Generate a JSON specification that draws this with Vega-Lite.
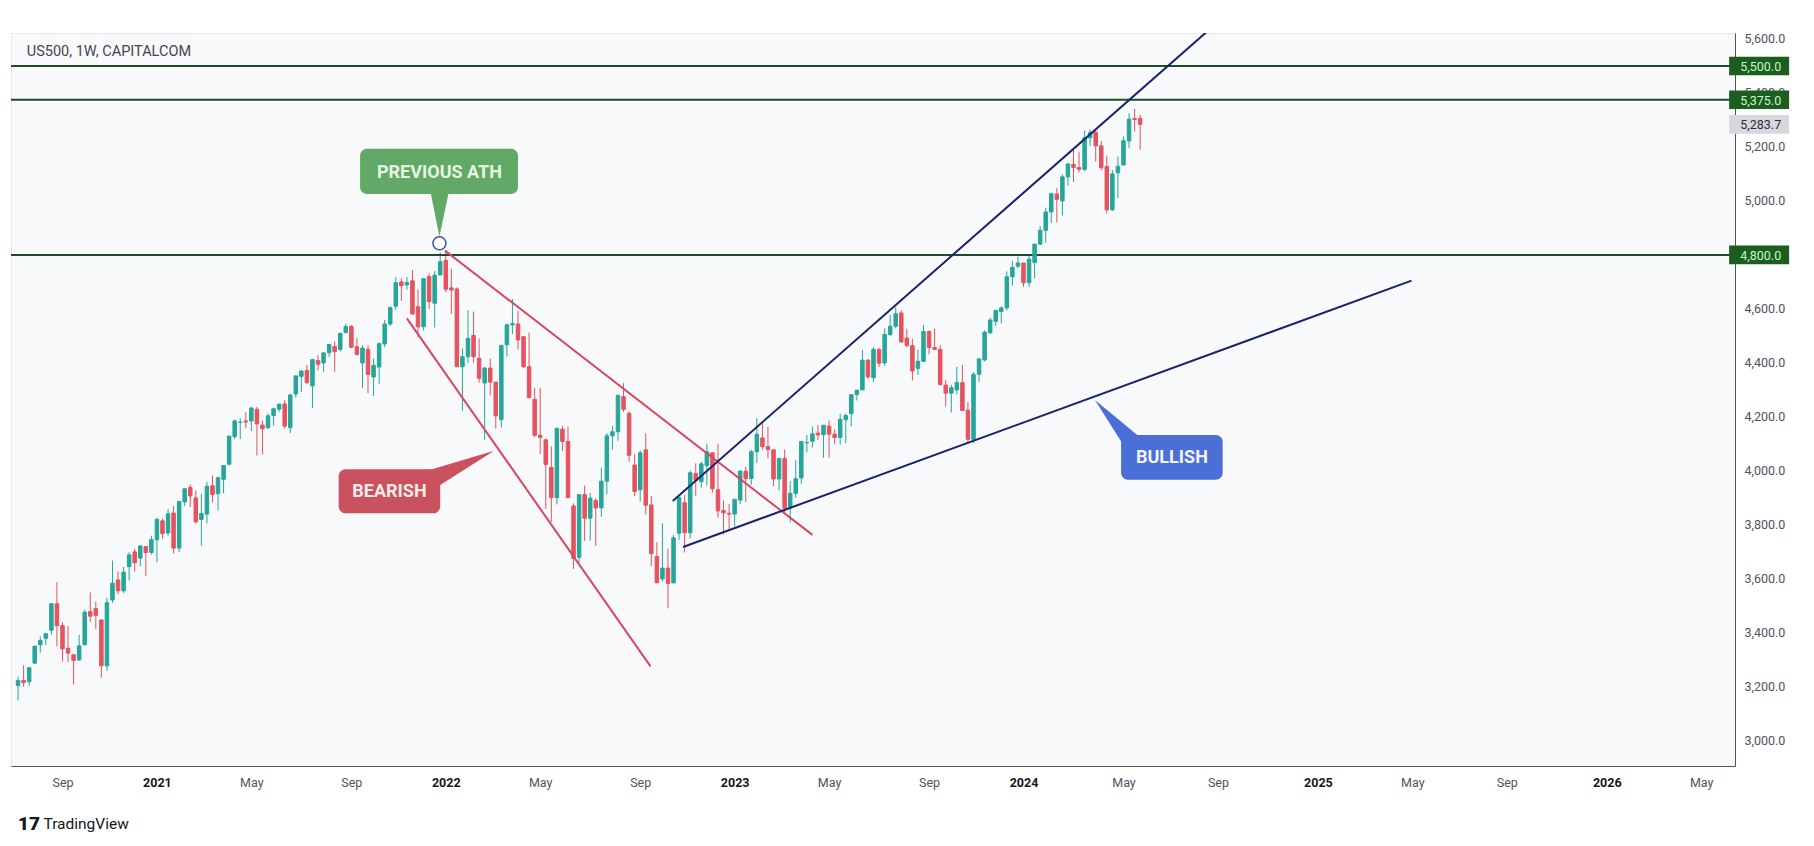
{
  "$schema": "https://vega.github.io/schema/vega-lite/v6.json",
  "width": 1724,
  "height": 733,
  "autosize": {"type": "none"},
  "padding": {"left": 11, "top": 33, "right": 79, "bottom": 80},
  "background": "#ffffff",
  "config": {"view": {"stroke": "#e6e8ee", "fill": "#f8f9fb"}, "font": "Roboto"},
  "resolve": {"scale": {"color": "independent", "shape": "independent"}},
  "datasets": {
    "candles": [
      {"d":"2020-07-13","o":3205,"h":3238,"l":3150,"c":3224},
      {"d":"2020-07-20","o":3224,"h":3280,"l":3200,"c":3216},
      {"d":"2020-07-27","o":3219,"h":3272,"l":3204,"c":3271},
      {"d":"2020-08-03","o":3288,"h":3352,"l":3284,"c":3351},
      {"d":"2020-08-10","o":3356,"h":3387,"l":3327,"c":3372},
      {"d":"2020-08-17","o":3380,"h":3399,"l":3355,"c":3397},
      {"d":"2020-08-24","o":3410,"h":3509,"l":3394,"c":3508},
      {"d":"2020-08-31","o":3508,"h":3588,"l":3349,"c":3427},
      {"d":"2020-09-07","o":3427,"h":3440,"l":3294,"c":3341},
      {"d":"2020-09-14","o":3343,"h":3426,"l":3291,"c":3325},
      {"d":"2020-09-21","o":3319,"h":3320,"l":3209,"c":3298},
      {"d":"2020-09-28","o":3300,"h":3393,"l":3296,"c":3352},
      {"d":"2020-10-05","o":3356,"h":3486,"l":3354,"c":3477},
      {"d":"2020-10-12","o":3479,"h":3550,"l":3441,"c":3462},
      {"d":"2020-10-19","o":3490,"h":3516,"l":3415,"c":3465},
      {"d":"2020-10-26","o":3448,"h":3450,"l":3234,"c":3278},
      {"d":"2020-11-02","o":3278,"h":3529,"l":3259,"c":3512},
      {"d":"2020-11-09","o":3522,"h":3668,"l":3511,"c":3584},
      {"d":"2020-11-16","o":3596,"h":3628,"l":3543,"c":3556},
      {"d":"2020-11-23","o":3556,"h":3644,"l":3548,"c":3625},
      {"d":"2020-11-30","o":3646,"h":3699,"l":3594,"c":3689},
      {"d":"2020-12-07","o":3700,"h":3712,"l":3627,"c":3660},
      {"d":"2020-12-14","o":3677,"h":3726,"l":3647,"c":3722},
      {"d":"2020-12-21","o":3720,"h":3722,"l":3610,"c":3698},
      {"d":"2020-12-28","o":3698,"h":3760,"l":3690,"c":3745},
      {"d":"2021-01-04","o":3745,"h":3827,"l":3662,"c":3820},
      {"d":"2021-01-11","o":3815,"h":3823,"l":3749,"c":3768},
      {"d":"2021-01-18","o":3770,"h":3859,"l":3760,"c":3841},
      {"d":"2021-01-25","o":3844,"h":3870,"l":3694,"c":3714},
      {"d":"2021-02-01","o":3714,"h":3887,"l":3700,"c":3887},
      {"d":"2021-02-08","o":3885,"h":3935,"l":3870,"c":3934},
      {"d":"2021-02-15","o":3939,"h":3950,"l":3866,"c":3907},
      {"d":"2021-02-22","o":3900,"h":3928,"l":3805,"c":3811},
      {"d":"2021-03-01","o":3820,"h":3914,"l":3723,"c":3842},
      {"d":"2021-03-08","o":3840,"h":3960,"l":3805,"c":3943},
      {"d":"2021-03-15","o":3945,"h":3983,"l":3883,"c":3913},
      {"d":"2021-03-22","o":3916,"h":3978,"l":3853,"c":3975},
      {"d":"2021-03-29","o":3969,"h":4020,"l":3917,"c":4020},
      {"d":"2021-04-05","o":4025,"h":4129,"l":4020,"c":4129},
      {"d":"2021-04-12","o":4127,"h":4191,"l":4118,"c":4185},
      {"d":"2021-04-19","o":4180,"h":4195,"l":4118,"c":4180},
      {"d":"2021-04-26","o":4185,"h":4218,"l":4158,"c":4181},
      {"d":"2021-05-03","o":4185,"h":4238,"l":4148,"c":4233},
      {"d":"2021-05-10","o":4228,"h":4237,"l":4057,"c":4174},
      {"d":"2021-05-17","o":4170,"h":4186,"l":4061,"c":4156},
      {"d":"2021-05-24","o":4160,"h":4213,"l":4155,"c":4204},
      {"d":"2021-05-31","o":4205,"h":4234,"l":4168,"c":4230},
      {"d":"2021-06-07","o":4229,"h":4249,"l":4219,"c":4247},
      {"d":"2021-06-14","o":4248,"h":4262,"l":4157,"c":4166},
      {"d":"2021-06-21","o":4160,"h":4286,"l":4140,"c":4281},
      {"d":"2021-06-28","o":4285,"h":4353,"l":4271,"c":4352},
      {"d":"2021-07-05","o":4350,"h":4372,"l":4292,"c":4370},
      {"d":"2021-07-12","o":4372,"h":4393,"l":4321,"c":4327},
      {"d":"2021-07-19","o":4315,"h":4415,"l":4233,"c":4412},
      {"d":"2021-07-26","o":4409,"h":4429,"l":4372,"c":4395},
      {"d":"2021-08-02","o":4400,"h":4440,"l":4367,"c":4437},
      {"d":"2021-08-09","o":4438,"h":4468,"l":4422,"c":4468},
      {"d":"2021-08-16","o":4461,"h":4480,"l":4367,"c":4442},
      {"d":"2021-08-23","o":4450,"h":4513,"l":4442,"c":4509},
      {"d":"2021-08-30","o":4513,"h":4545,"l":4509,"c":4535},
      {"d":"2021-09-06","o":4535,"h":4540,"l":4454,"c":4458},
      {"d":"2021-09-13","o":4460,"h":4492,"l":4427,"c":4432},
      {"d":"2021-09-20","o":4400,"h":4466,"l":4306,"c":4455},
      {"d":"2021-09-27","o":4450,"h":4466,"l":4288,"c":4357},
      {"d":"2021-10-04","o":4348,"h":4416,"l":4278,"c":4391},
      {"d":"2021-10-11","o":4385,"h":4475,"l":4323,"c":4471},
      {"d":"2021-10-18","o":4470,"h":4559,"l":4459,"c":4544},
      {"d":"2021-10-25","o":4544,"h":4608,"l":4537,"c":4605},
      {"d":"2021-11-01","o":4610,"h":4718,"l":4596,"c":4697},
      {"d":"2021-11-08","o":4700,"h":4714,"l":4630,"c":4686},
      {"d":"2021-11-15","o":4689,"h":4718,"l":4672,"c":4698},
      {"d":"2021-11-22","o":4704,"h":4744,"l":4585,"c":4581},
      {"d":"2021-11-29","o":4608,"h":4672,"l":4495,"c":4534},
      {"d":"2021-12-06","o":4534,"h":4713,"l":4520,"c":4712},
      {"d":"2021-12-13","o":4720,"h":4731,"l":4600,"c":4627},
      {"d":"2021-12-20","o":4621,"h":4740,"l":4531,"c":4725},
      {"d":"2021-12-27","o":4726,"h":4808,"l":4726,"c":4775},
      {"d":"2022-01-03","o":4780,"h":4818,"l":4662,"c":4673},
      {"d":"2022-01-10","o":4678,"h":4749,"l":4582,"c":4670},
      {"d":"2022-01-17","o":4674,"h":4680,"l":4395,"c":4386},
      {"d":"2022-01-24","o":4386,"h":4453,"l":4223,"c":4423},
      {"d":"2022-01-31","o":4423,"h":4595,"l":4400,"c":4491},
      {"d":"2022-02-07","o":4502,"h":4590,"l":4401,"c":4423},
      {"d":"2022-02-14","o":4417,"h":4490,"l":4327,"c":4343},
      {"d":"2022-02-21","o":4326,"h":4385,"l":4115,"c":4381},
      {"d":"2022-02-28","o":4381,"h":4416,"l":4279,"c":4329},
      {"d":"2022-03-07","o":4329,"h":4330,"l":4157,"c":4204},
      {"d":"2022-03-14","o":4190,"h":4467,"l":4161,"c":4465},
      {"d":"2022-03-21","o":4467,"h":4546,"l":4424,"c":4541},
      {"d":"2022-03-28","o":4541,"h":4637,"l":4507,"c":4546},
      {"d":"2022-04-04","o":4544,"h":4593,"l":4450,"c":4485},
      {"d":"2022-04-11","o":4497,"h":4500,"l":4381,"c":4386},
      {"d":"2022-04-18","o":4386,"h":4513,"l":4268,"c":4272},
      {"d":"2022-04-25","o":4265,"h":4308,"l":4124,"c":4132},
      {"d":"2022-05-02","o":4132,"h":4307,"l":4063,"c":4124},
      {"d":"2022-05-09","o":4115,"h":4120,"l":3859,"c":4024},
      {"d":"2022-05-16","o":4013,"h":4091,"l":3811,"c":3901},
      {"d":"2022-05-23","o":3901,"h":4158,"l":3876,"c":4158},
      {"d":"2022-05-30","o":4155,"h":4167,"l":4074,"c":4109},
      {"d":"2022-06-06","o":4109,"h":4164,"l":3900,"c":3901},
      {"d":"2022-06-13","o":3870,"h":3880,"l":3637,"c":3675},
      {"d":"2022-06-20","o":3680,"h":3913,"l":3660,"c":3912},
      {"d":"2022-06-27","o":3912,"h":3946,"l":3741,"c":3825},
      {"d":"2022-07-04","o":3825,"h":3918,"l":3742,"c":3899},
      {"d":"2022-07-11","o":3890,"h":3900,"l":3722,"c":3863},
      {"d":"2022-07-18","o":3863,"h":4012,"l":3830,"c":3962},
      {"d":"2022-07-25","o":3962,"h":4140,"l":3913,"c":4130},
      {"d":"2022-08-01","o":4130,"h":4167,"l":4079,"c":4145},
      {"d":"2022-08-08","o":4145,"h":4280,"l":4112,"c":4280},
      {"d":"2022-08-15","o":4275,"h":4325,"l":4218,"c":4228},
      {"d":"2022-08-22","o":4213,"h":4220,"l":4034,"c":4058},
      {"d":"2022-08-29","o":4022,"h":4062,"l":3907,"c":3924},
      {"d":"2022-09-05","o":3930,"h":4076,"l":3887,"c":4067},
      {"d":"2022-09-12","o":4078,"h":4139,"l":3838,"c":3873},
      {"d":"2022-09-19","o":3874,"h":3907,"l":3647,"c":3693},
      {"d":"2022-09-26","o":3683,"h":3736,"l":3584,"c":3586},
      {"d":"2022-10-03","o":3600,"h":3806,"l":3590,"c":3640},
      {"d":"2022-10-10","o":3640,"h":3712,"l":3491,"c":3583},
      {"d":"2022-10-17","o":3585,"h":3763,"l":3585,"c":3752},
      {"d":"2022-10-24","o":3769,"h":3905,"l":3745,"c":3901},
      {"d":"2022-10-31","o":3882,"h":3911,"l":3698,"c":3771},
      {"d":"2022-11-07","o":3771,"h":4001,"l":3750,"c":3993},
      {"d":"2022-11-14","o":3990,"h":4028,"l":3906,"c":3965},
      {"d":"2022-11-21","o":3960,"h":4034,"l":3938,"c":4026},
      {"d":"2022-11-28","o":4020,"h":4101,"l":3946,"c":4071},
      {"d":"2022-12-05","o":4067,"h":4067,"l":3919,"c":3934},
      {"d":"2022-12-12","o":3930,"h":4101,"l":3827,"c":3852},
      {"d":"2022-12-19","o":3853,"h":3890,"l":3765,"c":3845},
      {"d":"2022-12-26","o":3843,"h":3878,"l":3783,"c":3840},
      {"d":"2023-01-02","o":3840,"h":3895,"l":3794,"c":3895},
      {"d":"2023-01-09","o":3892,"h":4003,"l":3877,"c":3999},
      {"d":"2023-01-16","o":3999,"h":4015,"l":3885,"c":3972},
      {"d":"2023-01-23","o":3972,"h":4078,"l":3949,"c":4071},
      {"d":"2023-01-30","o":4071,"h":4195,"l":4029,"c":4136},
      {"d":"2023-02-06","o":4122,"h":4176,"l":4079,"c":4090},
      {"d":"2023-02-13","o":4090,"h":4164,"l":4047,"c":4079},
      {"d":"2023-02-20","o":4078,"h":4080,"l":3943,"c":3970},
      {"d":"2023-02-27","o":3970,"h":4049,"l":3928,"c":4046},
      {"d":"2023-03-06","o":4046,"h":4079,"l":3846,"c":3862},
      {"d":"2023-03-13","o":3862,"h":3962,"l":3809,"c":3917},
      {"d":"2023-03-20","o":3917,"h":4040,"l":3900,"c":3971},
      {"d":"2023-03-27","o":3974,"h":4110,"l":3951,"c":4109},
      {"d":"2023-04-03","o":4104,"h":4133,"l":4069,"c":4105},
      {"d":"2023-04-10","o":4110,"h":4164,"l":4087,"c":4137},
      {"d":"2023-04-17","o":4140,"h":4170,"l":4114,"c":4133},
      {"d":"2023-04-24","o":4134,"h":4170,"l":4049,"c":4169},
      {"d":"2023-05-01","o":4166,"h":4187,"l":4049,"c":4136},
      {"d":"2023-05-08","o":4136,"h":4154,"l":4099,"c":4124},
      {"d":"2023-05-15","o":4124,"h":4212,"l":4098,"c":4191},
      {"d":"2023-05-22","o":4190,"h":4212,"l":4103,"c":4205},
      {"d":"2023-05-29","o":4213,"h":4283,"l":4166,"c":4282},
      {"d":"2023-06-05","o":4283,"h":4299,"l":4261,"c":4299},
      {"d":"2023-06-12","o":4300,"h":4448,"l":4300,"c":4410},
      {"d":"2023-06-19","o":4410,"h":4415,"l":4341,"c":4348},
      {"d":"2023-06-26","o":4345,"h":4458,"l":4328,"c":4450},
      {"d":"2023-07-03","o":4450,"h":4456,"l":4385,"c":4399},
      {"d":"2023-07-10","o":4400,"h":4528,"l":4389,"c":4505},
      {"d":"2023-07-17","o":4505,"h":4578,"l":4500,"c":4536},
      {"d":"2023-07-24","o":4536,"h":4607,"l":4528,"c":4582},
      {"d":"2023-07-31","o":4585,"h":4595,"l":4474,"c":4478},
      {"d":"2023-08-07","o":4492,"h":4527,"l":4457,"c":4464},
      {"d":"2023-08-14","o":4464,"h":4490,"l":4335,"c":4370},
      {"d":"2023-08-21","o":4380,"h":4450,"l":4356,"c":4406},
      {"d":"2023-08-28","o":4406,"h":4541,"l":4403,"c":4516},
      {"d":"2023-09-04","o":4516,"h":4520,"l":4432,"c":4457},
      {"d":"2023-09-11","o":4457,"h":4527,"l":4447,"c":4450},
      {"d":"2023-09-18","o":4450,"h":4466,"l":4316,"c":4320},
      {"d":"2023-09-25","o":4318,"h":4337,"l":4238,"c":4288},
      {"d":"2023-10-02","o":4288,"h":4319,"l":4216,"c":4308},
      {"d":"2023-10-09","o":4300,"h":4385,"l":4284,"c":4327},
      {"d":"2023-10-16","o":4327,"h":4393,"l":4223,"c":4224},
      {"d":"2023-10-23","o":4225,"h":4255,"l":4103,"c":4117},
      {"d":"2023-10-30","o":4117,"h":4366,"l":4103,"c":4358},
      {"d":"2023-11-06","o":4358,"h":4415,"l":4329,"c":4415},
      {"d":"2023-11-13","o":4411,"h":4520,"l":4406,"c":4514},
      {"d":"2023-11-20","o":4511,"h":4568,"l":4511,"c":4559},
      {"d":"2023-11-27","o":4554,"h":4595,"l":4537,"c":4595},
      {"d":"2023-12-04","o":4590,"h":4609,"l":4546,"c":4604},
      {"d":"2023-12-11","o":4604,"h":4739,"l":4594,"c":4719},
      {"d":"2023-12-18","o":4719,"h":4778,"l":4686,"c":4754},
      {"d":"2023-12-25","o":4758,"h":4793,"l":4751,"c":4770},
      {"d":"2024-01-01","o":4770,"h":4770,"l":4682,"c":4697},
      {"d":"2024-01-08","o":4697,"h":4802,"l":4682,"c":4784},
      {"d":"2024-01-15","o":4772,"h":4842,"l":4714,"c":4840},
      {"d":"2024-01-22","o":4840,"h":4907,"l":4836,"c":4891},
      {"d":"2024-01-29","o":4891,"h":4975,"l":4845,"c":4959},
      {"d":"2024-02-05","o":4959,"h":5030,"l":4918,"c":5027},
      {"d":"2024-02-12","o":5026,"h":5048,"l":4920,"c":5006},
      {"d":"2024-02-19","o":5000,"h":5098,"l":4946,"c":5089},
      {"d":"2024-02-26","o":5089,"h":5140,"l":5057,"c":5137},
      {"d":"2024-03-04","o":5135,"h":5190,"l":5070,"c":5124},
      {"d":"2024-03-11","o":5124,"h":5180,"l":5105,"c":5117},
      {"d":"2024-03-18","o":5117,"h":5262,"l":5110,"c":5234},
      {"d":"2024-03-25","o":5234,"h":5264,"l":5204,"c":5254},
      {"d":"2024-04-01","o":5254,"h":5264,"l":5146,"c":5204},
      {"d":"2024-04-08","o":5204,"h":5222,"l":5113,"c":5123},
      {"d":"2024-04-15","o":5127,"h":5168,"l":4953,"c":4967},
      {"d":"2024-04-22","o":4967,"h":5114,"l":4963,"c":5100},
      {"d":"2024-04-29","o":5104,"h":5165,"l":5011,"c":5128},
      {"d":"2024-05-06","o":5133,"h":5239,"l":5133,"c":5223},
      {"d":"2024-05-13","o":5222,"h":5325,"l":5195,"c":5303},
      {"d":"2024-05-20","o":5305,"h":5341,"l":5257,"c":5302},
      {"d":"2024-05-27","o":5306,"h":5318,"l":5190,"c":5283.7}
    ],
    "levels": [
      {"v":5500,"label":"5,500.0","k":"level"},
      {"v":5375,"label":"5,375.0","k":"level"},
      {"v":4800,"label":"4,800.0","k":"level"},
      {"v":5283.7,"label":"5,283.7","k":"price"}
    ],
    "trend": [
      {"id":"bear1","k":"bear","d":"2022-01-02","v":4816},
      {"id":"bear1","k":"bear","d":"2023-04-10","v":3763},
      {"id":"bear2","k":"bear","d":"2021-11-15","v":4565},
      {"id":"bear2","k":"bear","d":"2022-09-18","v":3276},
      {"id":"bull1","k":"bull","d":"2022-10-16","v":3889},
      {"id":"bull1","k":"bull","d":"2024-08-18","v":5624},
      {"id":"bull2","k":"bull","d":"2022-10-29","v":3718},
      {"id":"bull2","k":"bull","d":"2025-05-04","v":4705}
    ],
    "bubbles": [
      {"name":"ath","label":"PREVIOUS ATH","d1":"2021-09-17","d2":"2022-04-04","v1":5026,"v2":5193,"dc":"2021-12-26","vc":5109},
      {"name":"bear","label":"BEARISH","d1":"2021-08-21","d2":"2021-12-27","v1":3843,"v2":4006,"dc":"2021-10-24","vc":3925},
      {"name":"bull","label":"BULLISH","d1":"2024-05-03","d2":"2024-09-08","v1":3967,"v2":4133,"dc":"2024-07-06","vc":4050}
    ],
    "pointers": [
      {"name":"ath","d":"2021-12-26","v":4868},
      {"name":"bear","d":"2022-03-05","v":4075},
      {"name":"bull","d":"2024-03-31","v":4263}
    ]
  },
  "layer": [
    {
      "data": {"name": "candles"},
      "mark": {"type": "rule", "strokeWidth": 1},
      "encoding": {
        "x": {"field": "d", "type": "temporal", "scale": {"type": "utc", "domain": [{"year":2020,"month":7,"date":10,"hours":10,"utc":true},{"year":2026,"month":6,"date":9,"hours":7,"utc":true}], "nice": false},
          "axis": {"orient": "bottom", "title": null, "grid": false, "ticks": false, "domain": true, "domainColor": "#50535e", "labelPadding": 10, "labelFontSize": 12.5, "labelFont": "Roboto", "labelFlush": false, "labelOverlap": false,
            "values": [{"year":2020,"month":9,"date":7,"utc":true},{"year":2021,"month":1,"date":4,"utc":true},{"year":2021,"month":5,"date":3,"utc":true},{"year":2021,"month":9,"date":6,"utc":true},{"year":2022,"month":1,"date":3,"utc":true},{"year":2022,"month":5,"date":2,"utc":true},{"year":2022,"month":9,"date":5,"utc":true},{"year":2023,"month":1,"date":2,"utc":true},{"year":2023,"month":5,"date":1,"utc":true},{"year":2023,"month":9,"date":4,"utc":true},{"year":2024,"month":1,"date":1,"utc":true},{"year":2024,"month":5,"date":6,"utc":true},{"year":2024,"month":9,"date":2,"utc":true},{"year":2025,"month":1,"date":6,"utc":true},{"year":2025,"month":5,"date":5,"utc":true},{"year":2025,"month":9,"date":1,"utc":true},{"year":2026,"month":1,"date":5,"utc":true},{"year":2026,"month":5,"date":4,"utc":true}],
            "labelExpr": "utcmonth(datum.value) == 0 ? utcFormat(datum.value, '%Y') : utcFormat(datum.value, '%b')",
            "labelFontWeight": {"condition": {"test": "utcmonth(datum.value) == 0", "value": "bold"}, "value": "normal"},
            "labelColor": {"condition": {"test": "utcmonth(datum.value) == 0", "value": "#131722"}, "value": "#50535e"}}},
        "y": {"field": "l", "type": "quantitative", "scale": {"domain": [2907, 5622], "nice": false, "zero": false},
          "axis": {"orient": "right", "title": null, "grid": false, "ticks": false, "domain": true, "domainColor": "#50535e", "values": [3000,3200,3400,3600,3800,4000,4200,4400,4600,5000,5200,5400,5600], "format": ",.1f", "labelPadding": 9, "labelFontSize": 12.5, "labelFont": "Roboto", "labelColor": "#50535e", "labelOverlap": false, "labelFlush": false}},
        "y2": {"field": "h"},
        "color": {"condition": {"test": "datum.c >= datum.o", "value": "#26a69a"}, "value": "#e4535f"}
      }
    },
    {
      "data": {"name": "levels"},
      "transform": [{"filter": "datum.k == 'level'"}],
      "mark": {"type": "rule", "color": "#1d4d2b", "strokeWidth": 2},
      "encoding": {
        "y": {"field": "v", "type": "quantitative", "scale": {"domain": [2907, 5622], "nice": false, "zero": false}}
      }
    },
    {
      "data": {"name": "candles"},
      "mark": {"type": "bar", "width": 3.5, "strokeWidth": 1},
      "encoding": {
        "x": {"field": "d", "type": "temporal", "scale": {"type": "utc", "domain": [{"year":2020,"month":7,"date":10,"hours":10,"utc":true},{"year":2026,"month":6,"date":9,"hours":7,"utc":true}], "nice": false}},
        "y": {"field": "o", "type": "quantitative", "scale": {"domain": [2907, 5622], "nice": false, "zero": false}},
        "y2": {"field": "c"},
        "color": {"condition": {"test": "datum.c >= datum.o", "value": "#26a69a"}, "value": "#e4535f"},
        "stroke": {"condition": {"test": "datum.c >= datum.o", "value": "#26a69a"}, "value": "#e4535f"}
      }
    },
    {
      "data": {"name": "trend"},
      "mark": {"type": "line", "strokeWidth": 2, "clip": true},
      "encoding": {
        "x": {"field": "d", "type": "temporal", "scale": {"type": "utc", "domain": [{"year":2020,"month":7,"date":10,"hours":10,"utc":true},{"year":2026,"month":6,"date":9,"hours":7,"utc":true}], "nice": false}},
        "y": {"field": "v", "type": "quantitative", "scale": {"domain": [2907, 5622], "nice": false, "zero": false}},
        "detail": {"field": "id"},
        "color": {"field": "k", "type": "nominal", "scale": {"domain": ["bear", "bull"], "range": ["#d8475d", "#17236b"]}, "legend": null}
      }
    },
    {
      "data": {"values": [{"d": "2021-12-26", "v": 4843}]},
      "mark": {"type": "point", "shape": "circle", "size": 169, "filled": false, "fill": "#ffffff", "fillOpacity": 1, "stroke": "#4252a8", "strokeWidth": 1.5, "opacity": 1},
      "encoding": {
        "x": {"field": "d", "type": "temporal", "scale": {"type": "utc", "domain": [{"year":2020,"month":7,"date":10,"hours":10,"utc":true},{"year":2026,"month":6,"date":9,"hours":7,"utc":true}], "nice": false}},
        "y": {"field": "v", "type": "quantitative", "scale": {"domain": [2907, 5622], "nice": false, "zero": false}}
      }
    },
    {
      "data": {"name": "pointers"},
      "mark": {"type": "point", "filled": true, "size": 10000, "opacity": 1, "strokeWidth": 0},
      "encoding": {
        "x": {"field": "d", "type": "temporal", "scale": {"type": "utc", "domain": [{"year":2020,"month":7,"date":10,"hours":10,"utc":true},{"year":2026,"month":6,"date":9,"hours":7,"utc":true}], "nice": false}},
        "y": {"field": "v", "type": "quantitative", "scale": {"domain": [2907, 5622], "nice": false, "zero": false}},
        "shape": {"field": "name", "type": "nominal", "scale": {"domain": ["ath", "bear", "bull"], "range": ["M0,0L-0.19,-0.95L0.2,-0.95Z", "M0,0L-1.432,0.426L-1.112,0.706Z", "M0,0L0.64,1.01L0.98,0.81Z"]}, "legend": null},
        "color": {"field": "name", "type": "nominal", "scale": {"domain": ["ath", "bear", "bull"], "range": ["#62a866", "#c9525e", "#4a6fd6"]}, "legend": null}
      }
    },
    {
      "data": {"name": "bubbles"},
      "mark": {"type": "rect", "cornerRadius": 7},
      "encoding": {
        "x": {"field": "d1", "type": "temporal", "scale": {"type": "utc", "domain": [{"year":2020,"month":7,"date":10,"hours":10,"utc":true},{"year":2026,"month":6,"date":9,"hours":7,"utc":true}], "nice": false}},
        "x2": {"field": "d2"},
        "y": {"field": "v1", "type": "quantitative", "scale": {"domain": [2907, 5622], "nice": false, "zero": false}},
        "y2": {"field": "v2"},
        "color": {"field": "name", "type": "nominal", "scale": {"domain": ["ath", "bear", "bull"], "range": ["#62a866", "#c9525e", "#4a6fd6"]}, "legend": null}
      }
    },
    {
      "data": {"name": "bubbles"},
      "mark": {"type": "text", "font": "Roboto", "fontSize": 18, "fontWeight": "bold", "align": "center", "baseline": "middle", "dy": 1},
      "encoding": {
        "x": {"field": "dc", "type": "temporal", "scale": {"type": "utc", "domain": [{"year":2020,"month":7,"date":10,"hours":10,"utc":true},{"year":2026,"month":6,"date":9,"hours":7,"utc":true}], "nice": false}},
        "y": {"field": "vc", "type": "quantitative", "scale": {"domain": [2907, 5622], "nice": false, "zero": false}},
        "text": {"field": "label"},
        "color": {"field": "name", "type": "nominal", "scale": {"domain": ["ath", "bear", "bull"], "range": ["#e4f7e0", "#fbeaea", "#f2f5ff"]}, "legend": null}
      }
    },
    {
      "data": {"name": "levels"},
      "mark": {"type": "point", "filled": true, "size": 3600, "opacity": 1, "strokeWidth": 0, "shape": "M-1,-0.31L1,-0.31L1,0.31L-1,0.31Z"},
      "encoding": {
        "x": {"datum": {"year": 2026, "month": 7, "date": 16, "utc": true}, "type": "temporal", "scale": {"type": "utc", "domain": [{"year":2020,"month":7,"date":10,"hours":10,"utc":true},{"year":2026,"month":6,"date":9,"hours":7,"utc":true}], "nice": false}},
        "y": {"field": "v", "type": "quantitative", "scale": {"domain": [2907, 5622], "nice": false, "zero": false}},
        "color": {"condition": {"test": "datum.k == 'level'", "value": "#1b5e20"}, "value": "#d6d8de"}
      }
    },
    {
      "data": {"name": "levels"},
      "mark": {"type": "text", "font": "Roboto", "fontSize": 12.5, "align": "center", "baseline": "middle", "dy": 1},
      "encoding": {
        "x": {"datum": {"year": 2026, "month": 7, "date": 18, "utc": true}, "type": "temporal", "scale": {"type": "utc", "domain": [{"year":2020,"month":7,"date":10,"hours":10,"utc":true},{"year":2026,"month":6,"date":9,"hours":7,"utc":true}], "nice": false}},
        "y": {"field": "v", "type": "quantitative", "scale": {"domain": [2907, 5622], "nice": false, "zero": false}},
        "text": {"field": "label"},
        "color": {"condition": {"test": "datum.k == 'level'", "value": "#c9f7c4"}, "value": "#2a2e39"}
      }
    },
    {
      "data": {"values": [{"d": "2020-07-24", "v": 5552, "t": "US500, 1W, CAPITALCOM"}]},
      "mark": {"type": "text", "font": "Roboto", "fontSize": 14.5, "align": "left", "baseline": "middle", "color": "#434651"},
      "encoding": {
        "x": {"field": "d", "type": "temporal", "scale": {"type": "utc", "domain": [{"year":2020,"month":7,"date":10,"hours":10,"utc":true},{"year":2026,"month":6,"date":9,"hours":7,"utc":true}], "nice": false}},
        "y": {"field": "v", "type": "quantitative", "scale": {"domain": [2907, 5622], "nice": false, "zero": false}},
        "text": {"field": "t"}
      }
    },
    {
      "data": {"values": [{"d": "2020-07-13", "v": 2693, "t": "17"}]},
      "mark": {"type": "text", "font": "Roboto", "fontSize": 19, "fontWeight": 900, "align": "left", "baseline": "middle", "color": "#131722"},
      "encoding": {
        "x": {"field": "d", "type": "temporal", "scale": {"type": "utc", "domain": [{"year":2020,"month":7,"date":10,"hours":10,"utc":true},{"year":2026,"month":6,"date":9,"hours":7,"utc":true}], "nice": false}},
        "y": {"field": "v", "type": "quantitative", "scale": {"domain": [2907, 5622], "nice": false, "zero": false}},
        "text": {"field": "t"}
      }
    },
    {
      "data": {"values": [{"d": "2020-08-14", "v": 2693, "t": "TradingView"}]},
      "mark": {"type": "text", "font": "Roboto", "fontSize": 15.5, "align": "left", "baseline": "middle", "color": "#131722"},
      "encoding": {
        "x": {"field": "d", "type": "temporal", "scale": {"type": "utc", "domain": [{"year":2020,"month":7,"date":10,"hours":10,"utc":true},{"year":2026,"month":6,"date":9,"hours":7,"utc":true}], "nice": false}},
        "y": {"field": "v", "type": "quantitative", "scale": {"domain": [2907, 5622], "nice": false, "zero": false}},
        "text": {"field": "t"}
      }
    }
  ]
}
